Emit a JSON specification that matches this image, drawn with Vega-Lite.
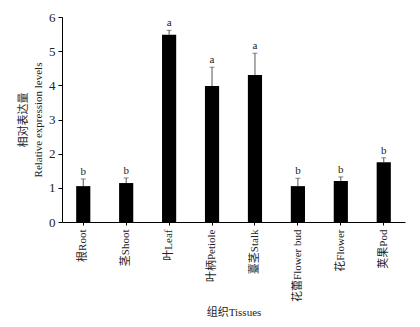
{
  "$schema": "https://vega.github.io/schema/vega-lite/v6.json",
  "autosize": "none",
  "width": 343,
  "height": 205,
  "padding": {"left": 62, "top": 17, "right": 15, "bottom": 105},
  "background": "white",
  "config": {
    "view": {"stroke": null},
    "font": "Liberation Serif, Noto Sans CJK SC",
    "axis": {"grid": false, "domainColor": "#000", "tickColor": "#000", "labelColor": "#222", "titleColor": "#222", "labelFont": "Liberation Serif, Noto Sans CJK SC", "titleFont": "Liberation Serif, Noto Sans CJK SC", "titleFontWeight": "normal"}
  },
  "data": {
    "values": [
      {"tissue": "根Root", "value": 1.05, "upper": 1.26, "sig": "b"},
      {"tissue": "茎Shoot", "value": 1.14, "upper": 1.29, "sig": "b"},
      {"tissue": "叶Leaf", "value": 5.48, "upper": 5.61, "sig": "a"},
      {"tissue": "叶柄Petiole", "value": 3.98, "upper": 4.53, "sig": "a"},
      {"tissue": "薹茎Stalk", "value": 4.3, "upper": 4.94, "sig": "a"},
      {"tissue": "花蕾Flower bud", "value": 1.05, "upper": 1.28, "sig": "b"},
      {"tissue": "花Flower", "value": 1.2, "upper": 1.32, "sig": "b"},
      {"tissue": "荚果Pod", "value": 1.75, "upper": 1.88, "sig": "b"}
    ]
  },
  "encoding": {
    "x": {
      "field": "tissue", "type": "nominal", "sort": null,
      "scale": {"paddingInner": 0.67, "paddingOuter": 0.33},
      "axis": {"title": "组织Tissues", "labelAngle": -90, "labelFontSize": 11, "titleFontSize": 11, "tickSize": 3, "labelPadding": 4, "titleY": 90, "titleBaseline": "middle"}
    }
  },
  "layer": [
    {
      "mark": {"type": "bar", "color": "#000"},
      "encoding": {
        "y": {"field": "value", "type": "quantitative", "scale": {"domain": [0, 6]},
          "axis": {"title": ["相对表达量", "Relative expression levels"], "values": [0,1,2,3,4,5,6], "labelOverlap": false, "labelFontSize": 13, "titleFontSize": 11, "tickSize": 4, "labelPadding": 3, "titleX": -34, "titleLineHeight": 15}}
      }
    },
    {
      "mark": {"type": "rule", "color": "#555", "strokeWidth": 1},
      "encoding": {"y": {"field": "value", "type": "quantitative",
          "axis": {"title": ["相对表达量", "Relative expression levels"], "values": [0,1,2,3,4,5,6], "labelOverlap": false, "labelFontSize": 13, "titleFontSize": 11, "tickSize": 4, "labelPadding": 3, "titleX": -34, "titleLineHeight": 15}}, "y2": {"field": "upper"}}
    },
    {
      "mark": {"type": "tick", "color": "#555", "size": 5, "thickness": 1},
      "encoding": {"y": {"field": "upper", "type": "quantitative",
          "axis": {"title": ["相对表达量", "Relative expression levels"], "values": [0,1,2,3,4,5,6], "labelOverlap": false, "labelFontSize": 13, "titleFontSize": 11, "tickSize": 4, "labelPadding": 3, "titleX": -34, "titleLineHeight": 15}}}
    },
    {
      "mark": {"type": "text", "fontSize": 11, "dy": -7, "color": "#222"},
      "encoding": {"y": {"field": "upper", "type": "quantitative",
          "axis": {"title": ["相对表达量", "Relative expression levels"], "values": [0,1,2,3,4,5,6], "labelOverlap": false, "labelFontSize": 13, "titleFontSize": 11, "tickSize": 4, "labelPadding": 3, "titleX": -34, "titleLineHeight": 15}}, "text": {"field": "sig"}}
    }
  ]
}
